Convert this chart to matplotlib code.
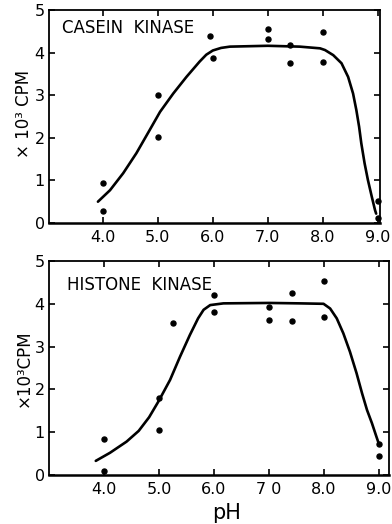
import matplotlib
matplotlib.use('Agg')
import matplotlib.pyplot as plt

# casein kinase: measured points
casein_ph = [4.0, 4.0, 5.0, 5.0, 5.95, 6.0, 7.0, 7.0, 7.4, 7.4, 8.0, 8.0, 9.0, 9.0]
casein_cpm = [0.95, 0.27, 3.0, 2.01, 4.40, 3.87, 4.55, 4.33, 4.18, 3.75, 4.48, 3.79, 0.52, 0.11]
# casein kinase: hand drawn curve
casein_curve_ph = [3.91, 4.13, 4.37, 4.61, 4.85, 5.04, 5.28, 5.52, 5.76, 5.88, 6.0, 6.15, 6.31,
                   7.0, 7.58, 7.95, 8.04, 8.19, 8.34, 8.46, 8.55, 8.61, 8.66, 8.70, 8.76,
                   8.82, 8.89, 8.95, 8.97]
casein_curve_cpm = [0.50, 0.77, 1.17, 1.64, 2.18, 2.61, 3.04, 3.43, 3.79, 3.95, 4.05, 4.11, 4.14,
                    4.16, 4.14, 4.10, 4.06, 3.94, 3.75, 3.43, 3.04, 2.65, 2.26, 1.87, 1.40,
                    1.01, 0.62, 0.30, 0.22]

# histone kinase: measured points
histone_ph = [4.0, 4.0, 5.0, 5.0, 5.25, 6.0, 6.0, 7.0, 7.0, 7.41, 7.41, 8.0, 8.0, 9.0, 9.0]
histone_cpm = [0.85, 0.10, 1.80, 1.04, 3.54, 4.20, 3.81, 3.93, 3.63, 4.26, 3.59, 4.53, 3.69, 0.73, 0.44]
# histone kinase: hand drawn curve
histone_curve_ph = [3.85, 4.11, 4.41, 4.63, 4.82, 4.99, 5.20, 5.38, 5.56, 5.71, 5.81, 5.93, 6.17,
                    7.0, 7.56, 7.99, 8.11, 8.23, 8.35, 8.47, 8.59, 8.69, 8.78, 8.87, 8.95, 8.99]
histone_curve_cpm = [0.33, 0.52, 0.78, 1.03, 1.35, 1.72, 2.22, 2.76, 3.27, 3.66, 3.86, 3.97, 4.01,
                     4.02, 4.01, 4.0, 3.89, 3.66, 3.31, 2.88, 2.38, 1.91, 1.52, 1.21, 0.90, 0.75]

x_ticks = [4.0, 5.0, 6.0, 7.0, 8.0, 9.0]
x_labels = ['4.0', '5.0', '6.0', '7.0', '8.0', '9.0']
bottom_x_labels = ['4.0', '5.0', '6.0', '7 0', '8.0', '9.0']
y_ticks = [0, 1, 2, 3, 4, 5]

W, H = 392, 524
fig = plt.figure(figsize=(W / 100, H / 100), dpi=100)
plt.rcParams['font.family'] = ['DejaVu Sans']


def px_axes(left, top, right, bottom):
    return fig.add_axes([left / W, 1 - bottom / H, (right - left) / W, (bottom - top) / H])


def style(ax, xlim, labels):
    ax.set_xlim(*xlim)
    ax.set_ylim(0, 5)
    ax.set_xticks(x_ticks)
    ax.set_xticklabels(labels)
    ax.set_yticks(y_ticks)
    ax.tick_params(direction='in', top=True, right=True, length=4, width=1.2,
                   labelsize=11.5, pad=5, colors='black')
    ax.tick_params(axis='y', pad=3)
    for side in ['top', 'left', 'right']:
        ax.spines[side].set_linewidth(1.3)
    ax.spines['bottom'].set_linewidth(1.8)


ax1 = px_axes(49, 10, 380, 223)
ax1.plot(casein_curve_ph, casein_curve_cpm, color='black', lw=1.9,
         solid_capstyle='round', solid_joinstyle='round')
ax1.plot(casein_ph, casein_cpm, 'o', color='black', ms=3.6, clip_on=False)
style(ax1, (3.02, 9.04), x_labels)
ax1.text(3.25, 4.58, 'CASEIN  KINASE', fontsize=12, va='center', ha='left')

ax2 = px_axes(49, 261, 389, 475)
ax2.plot(histone_curve_ph, histone_curve_cpm, color='black', lw=1.9,
         solid_capstyle='round', solid_joinstyle='round')
ax2.plot(histone_ph, histone_cpm, 'o', color='black', ms=3.6, clip_on=False)
style(ax2, (3.0, 9.18), bottom_x_labels)
ax2.text(3.33, 4.44, 'HISTONE  KINASE', fontsize=12, va='center', ha='left')

fig.text(24 / W, 1 - 114 / H, '× 10³ CPM', fontsize=12, rotation=90, ha='center', va='center')
fig.text(24 / W, 1 - 368 / H, '×10³CPM', fontsize=12, rotation=90, ha='center', va='center')
fig.text(227 / W, 1 - 513 / H, 'pH', fontsize=15, ha='center', va='center')

fig.savefig('out.png', dpi=100)
